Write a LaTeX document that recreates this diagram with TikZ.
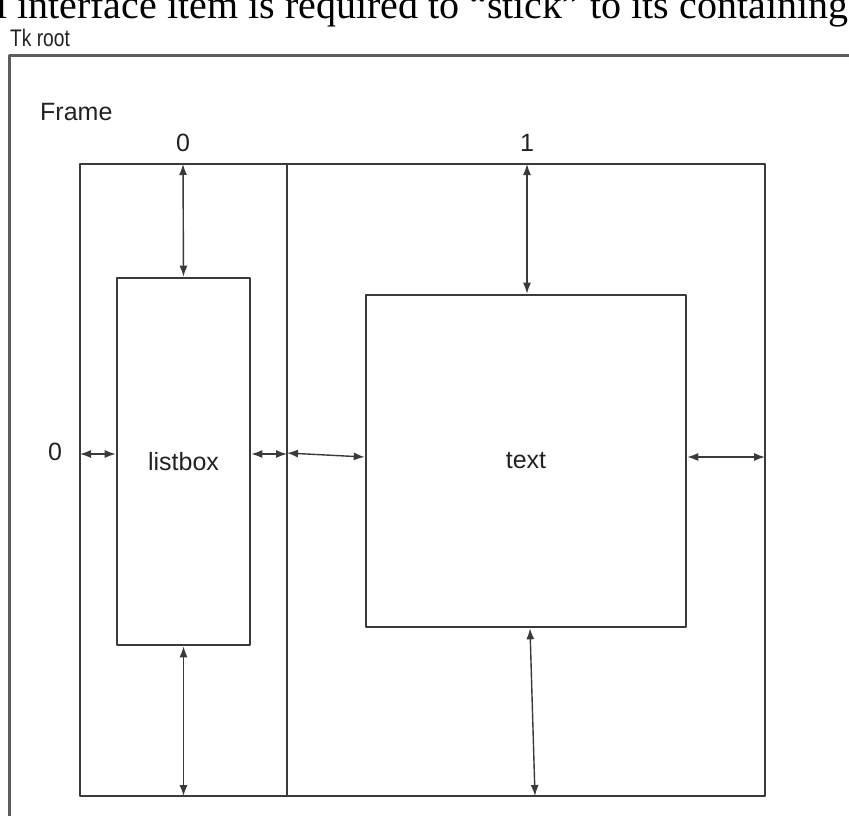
\documentclass[tikz,border=0pt]{standalone}
\usepackage{fontspec}
\setmainfont{Liberation Sans}
\newfontfamily\serifface{Liberation Serif}
\usetikzlibrary{arrows.meta}
\definecolor{linegray}{HTML}{3A3A3A}
\definecolor{rootgray}{HTML}{5C5C5C}
\definecolor{labelgray}{HTML}{222222}

\begin{document}
\begin{tikzpicture}[x=1pt,y=-1pt,line cap=round,line join=round,
  lbl/.style={font=\fontsize{25}{30}\selectfont,text=labelgray,inner sep=0pt},
  wbox/.style={lbl,draw=linegray,line width=2.6pt},
  gap/.style={{Latex[length=11pt,width=8pt]}-{Latex[length=11pt,width=8pt]},draw=linegray,line width=1.4pt}]
  \useasboundingbox (0,0) rectangle (849,816);
  \node[anchor=base west,inner sep=0pt,font=\serifface\fontsize{40}{48}\selectfont] (caption) at (-4,19) {l interface item is required to “stick” to its containing};
  \draw[rootgray,line width=3pt] (852,56) -- (9,56) -- (9,820);
  \node[lbl,anchor=base west,font=\fontsize{24}{28}\selectfont] (rootlabel) at (10,47) {\scalebox{0.8}[1]{Tk root}};
  \node[lbl,anchor=base west] (framelabel) at (40,121) {Frame};
  \coordinate (fnw) at (80,164);
  \coordinate (fse) at (765,796);
  \coordinate (dtop) at (287,164);
  \coordinate (dbot) at (287,796);
  \draw[linegray,line width=2.6pt] (fnw) rectangle (fse);
  \draw[linegray,line width=2.6pt] (dtop) -- (dbot);
  \node[wbox,minimum width=133pt,minimum height=367pt] (listbox) at (183.5,461.5) {listbox};
  \node[wbox,minimum width=320pt,minimum height=332pt] (textbox) at (526,461) {text};
  \node[lbl] (col0) at (183,143) {0};
  \node[lbl] (col1) at (527,143) {1};
  \node[lbl] (row0) at (55,452) {0};
  \coordinate (ltop) at (183,164);
  \coordinate (lbot) at (183.5,796);
  \coordinate (fw) at (80,454);
  \coordinate (dl) at (287,454);
  \coordinate (dr) at (287,453);
  \coordinate (fe) at (765,457);
  \coordinate (ttop) at (527,164);
  \coordinate (tbot) at (535,796);
  \draw[gap] (ltop) -- (listbox.north);
  \draw[gap] (listbox.south) -- (lbot);
  \draw[gap] (fw) -- ([yshift=7.5pt]listbox.west);
  \draw[gap] ([yshift=7.5pt]listbox.east) -- (dl);
  \draw[gap] (dr) -- ([yshift=4pt]textbox.west);
  \draw[gap] ([yshift=4pt]textbox.east) -- (fe);
  \draw[gap] (ttop) -- ([xshift=1pt]textbox.north);
  \draw[gap] ([xshift=4pt]textbox.south) -- (tbot);
\end{tikzpicture}
\end{document}
